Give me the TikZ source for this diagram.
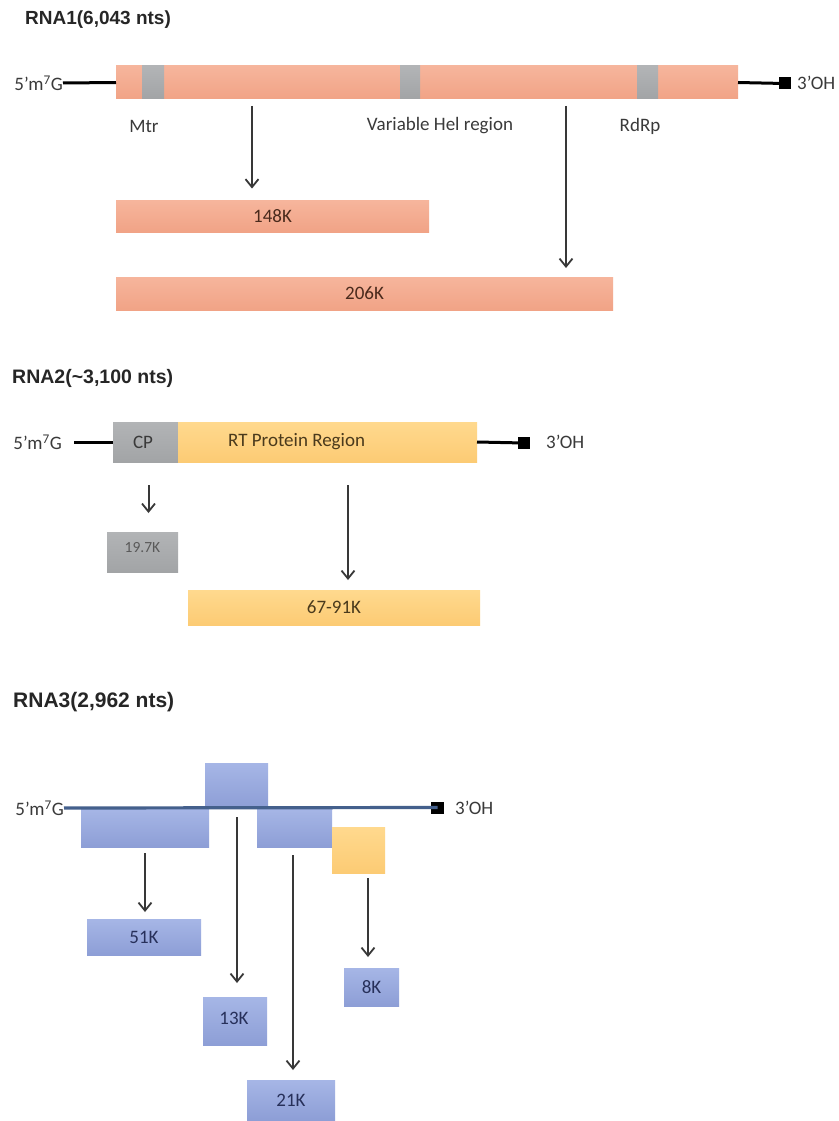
\documentclass[tikz,border=0pt]{standalone}
\usepackage{fontspec}
\setmainfont{Carlito}
\newfontfamily\ttlfont{Liberation Sans}
\usetikzlibrary{arrows.meta}
\definecolor{salA}{HTML}{F6B59C}
\definecolor{salB}{HTML}{F1A386}
\definecolor{gryA}{HTML}{B2B4B6}
\definecolor{gryB}{HTML}{A2A4A6}
\definecolor{ylwA}{HTML}{FFD98E}
\definecolor{ylwB}{HTML}{FCCB74}
\definecolor{bluA}{HTML}{A6B6E6}
\definecolor{bluB}{HTML}{8D9ED6}
\definecolor{lineblue}{HTML}{44608C}
\definecolor{arrgray}{HTML}{383838}
\definecolor{txtgray}{HTML}{3A3A3A}
\definecolor{saltext}{HTML}{4A2A1C}
\definecolor{bluetext}{HTML}{27305A}
\definecolor{ylwtext}{HTML}{4A3A1C}
\begin{document}
\begin{tikzpicture}[x=1pt,y=-1pt,
  box/.style={inner sep=0pt, outer sep=0pt, draw=none},
  salbox/.style={box, top color=salA, bottom color=salB},
  grybox/.style={box, top color=gryA, bottom color=gryB},
  ylwbox/.style={box, top color=ylwA, bottom color=ylwB},
  blubox/.style={box, top color=bluA, bottom color=bluB},
  lbl/.style={font=\fontsize{19}{22}\selectfont, text=txtgray, inner sep=0pt},
  ttlstyle/.style={inner sep=0pt, anchor=west, text=black!85},
  arr/.style={-{Straight Barb[length=8pt,width=13pt,line width=1.8pt]}, line width=2pt, draw=arrgray},
  rnaline/.style={line width=3pt, draw=black},
  endsq/.style={fill=black, inner sep=0pt, outer sep=0pt, minimum size=12pt},
]
\useasboundingbox[fill=white] (0,0) rectangle (838,1121);

% ---------------- RNA1 ----------------
\node[ttlstyle, font=\ttlfont\bfseries\fontsize{19}{22}\selectfont] (t1) at (25,20) {RNA1(6,043 nts)};
\node[salbox, minimum width=622pt, minimum height=33pt] (rna1) at (427,82.5) {};
\node[grybox, minimum width=22pt, minimum height=33pt] (mtr) at (153,82.5) {};
\node[grybox, minimum width=20pt, minimum height=33pt] (hel) at (410,82.5) {};
\node[grybox, minimum width=21pt, minimum height=33pt] (rdrp) at (647.5,82.5) {};
\node[lbl, anchor=east] (g1) at (63,83) {5’m\textsuperscript{7}G};
\node[endsq] (sq1) at (784.5,83.5) {};
\node[lbl, anchor=west] (oh1) at (797,83) {3’OH};
\draw[rnaline] (g1.east) -- (rna1.west);
\draw[rnaline] (rna1.east) -- (sq1.center);
\node[lbl] (lmtr) at (144,126) {Mtr};
\node[lbl] (lhel) at (440,126) {Variable Hel region};
\node[lbl] (lrdrp) at (640,126) {RdRp};

\node[salbox, minimum width=313pt, minimum height=31.5pt] (p148) at (272.5,216.3) {};
\node[lbl, text=saltext] at (p148.center) {148K};
\node[salbox, minimum width=497pt, minimum height=33pt] (p206) at (364.5,293.5) {};
\node[lbl, text=saltext] at (p206.center) {206K};

\coordinate (s1) at (252,99);
\coordinate (s2) at (566,99);
\draw[arr, shorten <=7pt, shorten >=12pt] (s1) -- (s1 |- p148.north);
\draw[arr, shorten <=7pt, shorten >=9pt] (s2) -- (s2 |- p206.north);

% ---------------- RNA2 ----------------
\node[ttlstyle, font=\ttlfont\bfseries\fontsize{19.5}{22}\selectfont] (t2) at (12,378) {RNA2(\textasciitilde3,100 nts)};
\node[grybox, minimum width=65pt, minimum height=40pt] (cp) at (145.5,442) {};
\node[ylwbox, minimum width=299pt, minimum height=40pt] (rt) at (327.5,442) {};
\node[lbl] at (143,442) {CP};
\node[lbl, anchor=west, text=ylwtext] at (228,442) {RT Protein Region};
\node[lbl, anchor=east] (g2) at (62,442) {5’m\textsuperscript{7}G};
\node[endsq] (sq2) at (524,443) {};
\node[lbl, anchor=west] (oh2) at (546,442) {3’OH};
\draw[rnaline, shorten <=12pt] (g2.east) -- (cp.west);
\draw[rnaline] (rt.east) -- (sq2.center);

\node[grybox, minimum width=71pt, minimum height=40pt] (p197) at (142.5,552) {};
\node[lbl, font=\fontsize{15.5}{18}\selectfont, text=black!65] at (142.5,548) {19.7K};
\node[ylwbox, minimum width=292pt, minimum height=35pt] (p6791) at (334,607.5) {};
\node[lbl, text=ylwtext] at (p6791.center) {67-91K};

\coordinate (s3) at (148.5,462);
\coordinate (s4) at (348,462);
\draw[arr, shorten <=23pt, shorten >=19pt] (s3) -- (s3 |- p197.north);
\draw[arr, shorten <=23pt, shorten >=10pt] (s4) -- (s4 |- p6791.north);

% ---------------- RNA3 ----------------
\node[ttlstyle, font=\ttlfont\bfseries\fontsize{21}{24}\selectfont] (t3) at (13,702) {RNA3(2,962 nts)};
\node[blubox, minimum width=128pt, minimum height=38pt] (b51) at (145,828) {};
\node[blubox, minimum width=63pt, minimum height=45pt] (b13) at (236.5,785.5) {};
\node[blubox, minimum width=75pt, minimum height=38pt] (b21) at (294.5,828) {};
\node[ylwbox, minimum width=53pt, minimum height=46pt] (by8) at (358.5,850) {};
\node[lbl, anchor=east] (g3) at (64,808) {5’m\textsuperscript{7}G};
\node[fill=black, inner sep=0pt, outer sep=0pt, minimum width=13pt, minimum height=12pt] (sq3) at (437.5,807.5) {};
\node[lbl, anchor=west] (oh3) at (455,808) {3’OH};
\draw[line width=3.2pt, draw=lineblue] (g3.east) -- (sq3.center);

\node[blubox, minimum width=114pt, minimum height=36pt] (p51) at (144,937) {};
\node[lbl, text=bluetext] at (p51.center) {51K};
\node[blubox, minimum width=64pt, minimum height=48pt] (p13) at (235,1021) {};
\node[lbl, text=bluetext] at (234,1018) {13K};
\node[blubox, minimum width=88pt, minimum height=40pt] (p21) at (291,1100) {};
\node[lbl, text=bluetext] at (p21.center) {21K};
\node[blubox, minimum width=55pt, minimum height=38pt] (p8) at (371.5,987) {};
\node[lbl, text=bluetext] at (p8.center) {8K};

\coordinate (s5) at (145,847);
\coordinate (s6) at (237,808);
\coordinate (s7) at (293,847);
\coordinate (s8) at (368,873);
\draw[arr, shorten <=6pt, shorten >=7pt] (s5) -- (s5 |- p51.north);
\draw[arr, shorten <=9pt, shorten >=14pt] (s6) -- (s6 |- p13.north);
\draw[arr, shorten <=8pt, shorten >=10pt] (s7) -- (s7 |- p21.north);
\draw[arr, shorten <=5pt, shorten >=11pt] (s8) -- (s8 |- p8.north);
\end{tikzpicture}
\end{document}
